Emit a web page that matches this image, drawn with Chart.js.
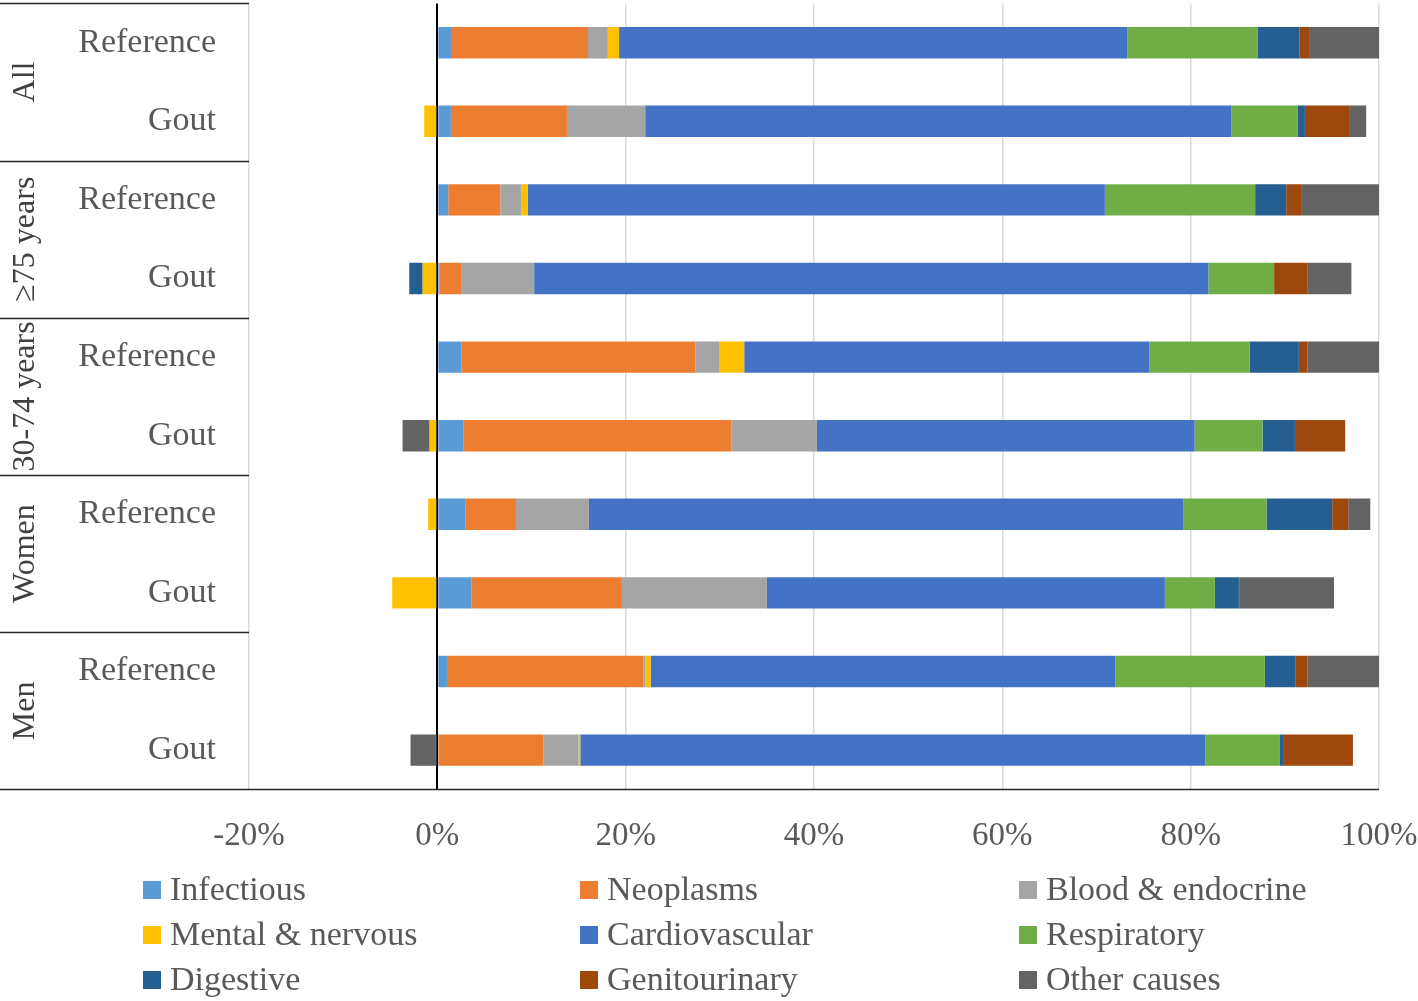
<!DOCTYPE html>
<html>
<head>
<meta charset="utf-8">
<script src="https://cdn.jsdelivr.net/npm/chart.js@4.4.1/dist/chart.umd.min.js"></script>
<style>
  html, body { margin: 0; padding: 0; background: #ffffff; }
  #wrap { width: 1418px; height: 1001px; position: relative; }
</style>
</head>
<body>
<div id="wrap"><canvas id="c" width="1418" height="1001"></canvas></div>
<script>
// ---- Data ----
const categories = ['Reference', 'Gout', 'Reference', 'Gout', 'Reference', 'Gout', 'Reference', 'Gout', 'Reference', 'Gout'];
const groups = ['All', '\u226575 years', '30-74 years', 'Women', 'Men'];
const xTicks = [-20, 0, 20, 40, 60, 80, 100];

const infectious = [1.45, 1.44, 1.16, 0.2, 2.54, 2.75, 2.96, 3.6, 1.02, -0.15];
const neoplasms  = [14.55, 12.32, 5.52, 2.4, 24.85, 28.5, 5.39, 16.0, 20.88, 11.29];
const blood      = [2.1, 8.32, 2.2, 7.68, 2.59, 9.06, 7.75, 15.4, 0.18, 3.71];
const mental     = [1.2, -1.39, 0.74, -1.56, 2.61, -0.82, -0.97, -4.79, 0.57, 0.18];
const cardio     = [53.96, 62.23, 61.27, 71.6, 43.01, 40.11, 63.15, 42.26, 49.34, 66.37];
const resp       = [13.88, 7.08, 15.96, 6.98, 10.66, 7.22, 8.81, 5.31, 15.89, 7.93];
const digestive  = [4.43, 0.74, 3.3, -1.42, 5.23, 3.43, 6.97, 2.55, 3.22, 0.42];
const genito     = [1.09, 4.78, 1.66, 3.58, 0.93, 5.34, 1.7, 0.1, 1.28, 7.33];
const other      = [7.34, 1.73, 8.19, 4.63, 7.58, -2.87, 2.34, 10.0, 7.62, -2.7];

const seriesNames = ['Infectious', 'Neoplasms', 'Blood & endocrine', 'Mental & nervous', 'Cardiovascular', 'Respiratory', 'Digestive', 'Genitourinary', 'Other causes'];
const seriesData = [infectious, neoplasms, blood, mental, cardio, resp, digestive, genito, other];
const seriesColors = ['#5B9BD5', '#ED7D31', '#A5A5A5', '#FFC000', '#4472C4', '#70AD47', '#255E91', '#9E480E', '#636363'];

const SERIF = '"Liberation Serif", "Times New Roman", serif';

const groupPlugin = {
  id: 'groupPlugin',
  afterDraw(chart) {
    const ctx = chart.ctx;
    const ys = chart.scales.y;
    const ca = chart.chartArea;
    ctx.save();
    // separators
    ctx.strokeStyle = '#262626';
    ctx.lineWidth = 1.5;
    for (let g = 0; g <= groups.length; g++) {
      const py = Math.round(ys.getPixelForValue(g * 2 - 0.5)) + 0.5;
      ctx.beginPath();
      ctx.moveTo(0, py);
      ctx.lineTo(g === groups.length ? ca.right : ca.left, py);
      ctx.stroke();
    }
    // group labels (rotated)
    ctx.fillStyle = '#404040';
    ctx.font = '32px ' + SERIF;
    ctx.textAlign = 'center';
    ctx.textBaseline = 'middle';
    groups.forEach((name, g) => {
      const y0 = ys.getPixelForValue(g * 2 - 0.5);
      const y1 = ys.getPixelForValue(g * 2 + 1.5);
      ctx.save();
      ctx.translate(26, (y0 + y1) / 2);
      ctx.rotate(-Math.PI / 2);
      ctx.fillText(name, 0, 0);
      ctx.restore();
    });
    // legend (3 columns)
    const colX = [143, 580, 1019];
    const rowY = [890, 935, 980];
    ctx.font = '34px ' + SERIF;
    ctx.textAlign = 'left';
    chart.data.datasets.forEach((ds, i) => {
      const x = colX[i % 3];
      const y = rowY[Math.floor(i / 3)];
      ctx.fillStyle = ds.backgroundColor;
      ctx.fillRect(x, y - 9, 18, 18);
      ctx.fillStyle = '#595959';
      ctx.fillText(ds.label, x + 27, y + 1);
    });
    ctx.restore();
  }
};

new Chart(document.getElementById('c'), {
  type: 'bar',
  data: {
    labels: categories,
    datasets: seriesNames.map((name, i) => ({
      label: name,
      data: seriesData[i],
      backgroundColor: seriesColors[i],
      borderWidth: 0,
      barPercentage: 0.4,
      categoryPercentage: 1.0
    }))
  },
  options: {
    indexAxis: 'y',
    responsive: false,
    animation: false,
    layout: { padding: { left: 0, right: 39, top: 0, bottom: 145 } },
    plugins: {
      legend: { display: false },
      tooltip: { enabled: false }
    },
    scales: {
      x: {
        stacked: true,
        min: -20,
        max: 100,
        afterBuildTicks: (scale) => { scale.ticks = xTicks.map(v => ({ value: v })); },
        ticks: {
          callback: (v) => v + '%',
          color: '#595959',
          font: { family: SERIF, size: 33 },
          padding: 0,
          maxRotation: 0
        },
        grid: {
          drawTicks: true,
          tickLength: 27,
          tickColor: 'rgba(0,0,0,0)',
          color: (c) => (c.tick && c.tick.value === 0) ? '#000000' : '#D9D9D9',
          lineWidth: (c) => (c.tick && c.tick.value === 0) ? 2 : 1.5
        },
        border: { display: false }
      },
      y: {
        stacked: true,
        afterFit: (scale) => { scale.width = 249; },
        ticks: {
          color: '#595959',
          font: { family: SERIF, size: 34, lineHeight: 0.2 },
          padding: 0
        },
        grid: {
          display: true,
          drawOnChartArea: false,
          drawTicks: true,
          tickLength: 33,
          color: 'rgba(0,0,0,0)',
          tickColor: 'rgba(0,0,0,0)'
        },
        border: { display: false }
      }
    }
  },
  plugins: [groupPlugin]
});
</script>
</body>
</html>
